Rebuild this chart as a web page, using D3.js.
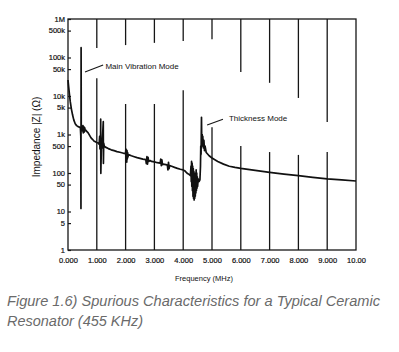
<!DOCTYPE html>
<html><head><meta charset="utf-8">
<script src="https://cdn.jsdelivr.net/npm/d3@7"></script>
<style>body{margin:0;background:#fff}svg{display:block}</style>
</head><body>
<script>
// ---- data ----
const freqMHz = [0.000,0.020,0.050,0.080,0.120,0.160,0.200,0.250,0.300,0.350,0.400,0.430,0.445,0.450,0.455,0.460,0.470,0.500,0.520,0.530,0.545,0.560,0.580,0.600,0.620,0.650,0.700,0.750,0.800,0.850,0.900,0.950,1.000,1.050,1.080,1.100,1.110,1.120,1.130,1.135,1.140,1.165,1.180,1.225,1.230,1.240,1.260,1.300,1.400,1.500,1.600,1.700,1.800,1.900,1.950,2.000,2.010,2.020,2.030,2.040,2.050,2.060,2.070,2.080,2.100,2.200,2.300,2.400,2.500,2.600,2.700,2.720,2.740,2.760,2.780,2.800,2.850,2.900,3.000,3.100,3.200,3.220,3.240,3.260,3.280,3.300,3.400,3.450,3.470,3.490,3.510,3.530,3.600,3.700,3.800,3.900,4.000,4.050,4.100,4.150,4.200,4.250,4.270,4.280,4.290,4.300,4.310,4.320,4.330,4.340,4.350,4.360,4.370,4.380,4.390,4.400,4.410,4.420,4.430,4.440,4.450,4.460,4.470,4.480,4.490,4.500,4.520,4.550,4.580,4.600,4.610,4.620,4.635,4.645,4.660,4.670,4.680,4.700,4.720,4.740,4.760,4.800,4.900,5.000,5.200,5.400,5.600,5.800,6.000,6.500,7.000,7.500,8.000,8.500,9.000,9.500,10.00];
const impedanceOhm = [26000,18000,11000,7000,4500,3200,2400,1900,1700,1600,1550,1500,900,12,180000,1800,1400,1250,1700,1100,1600,1150,1500,1250,1300,1200,1100,950,820,750,680,650,620,600,560,900,420,700,500,2500,98,800,450,2150,178,600,500,470,430,400,380,360,345,330,320,330,420,200,400,190,380,230,340,260,300,280,265,250,240,230,222,175,265,170,255,200,210,200,195,185,180,230,155,220,165,170,165,160,120,190,130,155,150,140,132,125,120,115,105,97,92,86,150,60,200,45,180,35,150,25,130,22,110,20,100,22,90,25,100,30,120,35,100,40,80,45,70,60,66,150,500,300,2800,600,1000,500,900,450,700,380,500,340,280,245,200,170,150,140,132,117,104,94,85,77,70,66,62];
const yTickValues = [1,5,10,50,100,500,1e3,5e3,1e4,5e4,1e5,5e5,1e6];
const yTickLabels = ["1","5","10","50","100","500","1k","5k","10k","50k","100k","500k","1M"];
const xTickValues = [0,1,2,3,4,5,6,7,8,9,10];
const xTickLabels = ["0.000","1.000","2.000","3.000","4.000","5.000","6.000","7.000","8.000","9.000","10.00"];
// vertical grid lines are interrupted between these impedance values
const gridGapTop =    [null,177000,210000,240000,270000,300000,42000,22000,8900,2100,null];
const gridGapBottom = [null,29000,6200,6200,14000,1550,500,350,295,350,null];
const annotations = [
  {text:"Main Vibration Mode", f:1.30, z:60000, lf1:0.59, lz1:42000, lf2:1.22, lz2:64000},
  {text:"Thickness Mode", f:5.59, z:2700, lf1:4.83, lz1:1770, lf2:5.38, lz2:2500}
];

// ---- layout ----
const W=399,H=352;
const L=68,R=356,T=19,B=250;
const svg=d3.select("body").append("svg").attr("width",W).attr("height",H);
const x=d3.scaleLinear().domain([0,10]).range([L,R]);
const y=d3.scaleLog().domain([1,1e6]).range([B,T]);
const tf="'Liberation Sans', Arial, sans-serif";
const ink="#161616";

// grid lines
xTickValues.forEach((v,i)=>{
  if(i===0||i===xTickValues.length-1) return;
  const gx=x(v);
  if(gridGapTop[i]==null){
    svg.append("line").attr("x1",gx).attr("x2",gx).attr("y1",T).attr("y2",B).attr("stroke",ink).attr("stroke-width",1.3);
  } else {
    svg.append("line").attr("x1",gx).attr("x2",gx).attr("y1",T).attr("y2",y(gridGapTop[i])).attr("stroke",ink).attr("stroke-width",1.3);
    svg.append("line").attr("x1",gx).attr("x2",gx).attr("y1",y(gridGapBottom[i])).attr("y2",B).attr("stroke",ink).attr("stroke-width",1.3);
  }
});

// frame
svg.append("rect").attr("x",L).attr("y",T).attr("width",R-L).attr("height",B-T)
  .attr("fill","none").attr("stroke",ink).attr("stroke-width",1.3);

// y axis ticks + labels
const yAxis=d3.axisLeft(y).tickValues(yTickValues).tickSize(-3).tickPadding(6)
  .tickFormat((d,i)=>yTickLabels[i]);
const gy=svg.append("g").attr("transform",`translate(${L},0)`).call(yAxis);
gy.select(".domain").remove();
gy.selectAll(".tick line").attr("stroke",ink).attr("stroke-width",1.2);
gy.selectAll(".tick text").attr("font-family",tf).attr("font-size",7.5).attr("fill","#111")
  .attr("stroke","#111").attr("stroke-width",0.2).attr("x",-3);

// x axis labels
const xAxis=d3.axisBottom(x).tickValues(xTickValues).tickSize(0).tickPadding(8)
  .tickFormat((d,i)=>xTickLabels[i]);
const gx=svg.append("g").attr("transform",`translate(0,${B})`).call(xAxis);
gx.select(".domain").remove();
gx.selectAll(".tick text").attr("font-family",tf).attr("font-size",7.5).attr("fill","#111")
  .attr("stroke","#111").attr("stroke-width",0.2);

// curve
const pts=freqMHz.map((f,i)=>[f,impedanceOhm[i]]);
svg.append("path").datum(pts)
  .attr("d",d3.line().x(d=>x(d[0])).y(d=>y(d[1])))
  .attr("fill","none").attr("stroke","#111").attr("stroke-width",1.7).attr("stroke-linejoin","round");

// annotations
annotations.forEach(a=>{
  svg.append("line").attr("x1",x(a.lf1)).attr("y1",y(a.lz1)).attr("x2",x(a.lf2)).attr("y2",y(a.lz2))
    .attr("stroke",ink).attr("stroke-width",1.1);
  svg.append("text").attr("x",x(a.f)).attr("y",y(a.z)).attr("dy","0.35em")
    .attr("font-family",tf).attr("font-size",8).attr("fill","#111").text(a.text);
});

// axis titles
svg.append("text").attr("x",204).attr("y",281).attr("text-anchor","middle")
  .attr("font-family",tf).attr("font-size",7.5).attr("fill","#111").text("Frequency (MHz)");
svg.append("text").attr("transform","translate(40,137) rotate(-90)").attr("text-anchor","middle")
  .attr("font-family",tf).attr("font-size",10).attr("fill","#111").text("Impedance |Z| (Ω)");

// caption
const cf="'Liberation Sans Narrow', 'Liberation Sans', Arial, sans-serif";
svg.append("text").attr("x",7).attr("y",306).attr("font-family",cf).attr("font-style","italic")
  .attr("font-size",15).attr("fill","#6a6a6a").attr("textLength",373).attr("lengthAdjust","spacingAndGlyphs")
  .text("Figure 1.6) Spurious Characteristics for a Typical Ceramic");
svg.append("text").attr("x",7).attr("y",326).attr("font-family",cf).attr("font-style","italic")
  .attr("font-size",15).attr("fill","#6a6a6a").attr("textLength",136).attr("lengthAdjust","spacingAndGlyphs")
  .text("Resonator (455 KHz)");
</script>
</body></html>
